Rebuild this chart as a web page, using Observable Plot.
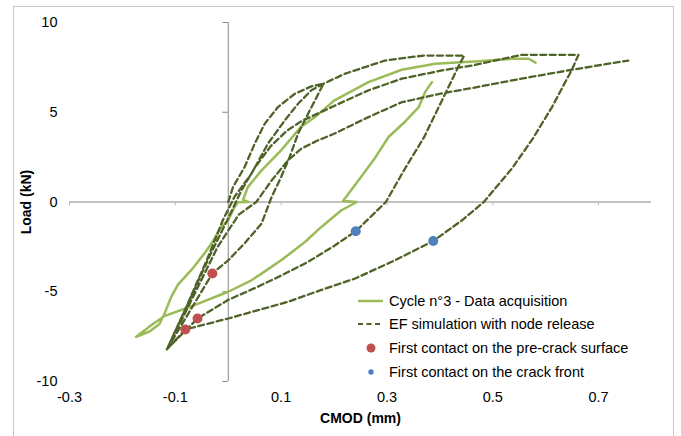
<!DOCTYPE html>
<html>
<head>
<meta charset="utf-8">
<script src="https://cdn.jsdelivr.net/npm/d3@7"></script>
<script src="https://cdn.jsdelivr.net/npm/@observablehq/plot@0.6"></script>
<style>
  html, body { margin: 0; padding: 0; background: #fff; }
  #wrap { position: relative; width: 681px; height: 436px; overflow: hidden; font-family: 'Liberation Sans', Arial, sans-serif; }
  #frame { position: absolute; left: 13px; top: 6px; width: 661px; height: 460px; border: 1px solid #c8c8c8; box-sizing: border-box; pointer-events: none; }
  #legend { position: absolute; left: 0; top: 0; width: 681px; height: 436px; pointer-events: none; }
  .item { position: absolute; left: 356px; height: 20px; display: flex; align-items: center; font-size: 14.5px; color: #000; white-space: nowrap; }
  .item svg { margin-right: 5px; }
</style>
</head>
<body>
<div id="wrap">
  <div id="chart"></div>
  <div id="frame"></div>
  <div id="legend"></div>
</div>
<script>
// ---- Data ----
const xTicks = [-0.3, -0.1, 0.1, 0.3, 0.5, 0.7];
const yTicks = [-10, -5, 0, 5, 10];

const cycleLabel = "Cycle n°3 - Data acquisition";
const efLabel = "EF simulation with node release";
const preCrackLabel = "First contact on the pre-crack surface";
const crackFrontLabel = "First contact on the crack front";

// Cycle n°3 measured curve (CMOD mm, Load kN), in drawing order
const cycleX = [0.385,0.372,0.36,0.335,0.303,0.275,0.246,0.217,0.243,0.214,0.176,0.145,0.1,0.063,0.044,0,-0.064,-0.121,-0.145,-0.174,-0.148,-0.13,-0.12,-0.108,-0.095,-0.07,-0.045,-0.032,-0.013,0,0.012,0.018,0.038,0.028,0.037,0.063,0.1,0.138,0.164,0.2,0.265,0.328,0.391,0.48,0.536,0.568,0.581];
const cycleY = [6.68,6.12,5.29,4.5,3.62,2.35,1.2,0.06,0.0,-0.46,-1.39,-2.23,-3.25,-3.99,-4.36,-5.0,-5.75,-6.36,-6.85,-7.51,-7.2,-6.8,-6.2,-5.3,-4.6,-3.8,-2.87,-2.32,-1.39,-1.02,-0.28,-0.02,0.0,0.12,0.83,1.76,2.88,4.2,4.73,5.65,6.68,7.37,7.7,7.85,7.98,7.98,7.76];

// EF simulation branches [CMOD, Load]
const efInitialLoad = [[0,0],[0.009,0.83],[0.031,1.95],[0.05,3.25],[0.069,4.36],[0.094,5.29],[0.126,6.03],[0.157,6.44],[0.18,6.59]];
const efUnload1 = [[0.18,6.59],[0.167,5.84],[0.151,4.92],[0.132,3.81],[0.116,2.5],[0.1,1.39],[0.082,0.28],[0.063,-1.2],[0.031,-2.3],[0,-3.25],[-0.03,-3.98],[-0.073,-6.1],[-0.116,-8.21]];
const efReload1 = [[-0.116,-8.21],[-0.08,-5.9],[-0.04,-3.2],[-0.01,-1.0],[0.012,0.3],[0.044,1.58],[0.075,3.25],[0.107,4.55],[0.132,5.47],[0.157,6.22],[0.18,6.59],[0.22,7.14],[0.296,7.88],[0.369,8.16],[0.446,8.16]];
const efUnload2 = [[0.446,8.16],[0.436,7.6],[0.404,5.66],[0.37,3.6],[0.334,1.86],[0.298,0],[0.241,-1.63],[0.2,-2.45],[0.15,-3.35],[0.1,-4.1],[0.05,-4.8],[0,-5.45],[-0.058,-6.49],[-0.116,-8.21]];
const efReload2 = [[-0.116,-8.21],[-0.075,-5.6],[-0.035,-3.0],[0,-0.9],[0.025,0.65],[0.05,1.9],[0.08,3.1],[0.11,3.95],[0.138,4.5],[0.2,5.35],[0.265,6.22],[0.328,6.87],[0.404,7.33],[0.461,7.6],[0.51,7.92],[0.555,8.2],[0.662,8.2]];
const efUnload3 = [[0.662,8.2],[0.65,7.4],[0.612,5.29],[0.575,3.5],[0.536,1.86],[0.483,0],[0.442,-1.02],[0.3875,-2.17],[0.315,-3.25],[0.24,-4.26],[0.176,-4.9],[0.113,-5.56],[0,-6.49],[-0.081,-7.1],[-0.116,-8.21]];
const efReload3 = [[-0.116,-8.21],[-0.07,-5.5],[-0.02,-2.5],[0.02,-0.7],[0.053,0],[0.082,1.2],[0.113,2.32],[0.138,2.97],[0.167,3.4],[0.2,3.8],[0.265,4.73],[0.328,5.56],[0.404,6.05],[0.461,6.35],[0.55,6.85],[0.65,7.37],[0.756,7.88]];

// Contact points
const preCrackX = [-0.03, -0.058, -0.081];
const preCrackY = [-3.98, -6.49, -7.1];
const crackFrontX = [0.241, 0.3875];
const crackFrontY = [-1.63, -2.17];

// ---- Build tables ----
const cycle = cycleX.map((x, i) => ({x, y: cycleY[i]}));
const ef = [efInitialLoad, efUnload1, efReload1, efUnload2, efReload2, efUnload3, efReload3]
  .flatMap((b, j) => (j === 0 ? b : b.slice(1)))
  .map(([x, y]) => ({x, y}));
const preCrack = preCrackX.map((x, i) => ({x, y: preCrackY[i]}));
const crackFront = crackFrontX.map((x, i) => ({x, y: crackFrontY[i]}));

const GREEN = "#9bbb59", OLIVE = "#4f6228", RED = "#c0504d", BLUE = "#4f81bd";
const AXIS = "#868686", TICK = "#bfbfbf";

const chart = Plot.plot({
  width: 681,
  height: 436,
  marginLeft: 69,
  marginRight: 30,
  marginTop: 22,
  marginBottom: 55,
  style: {fontFamily: "'Liberation Sans', Arial, sans-serif", fontSize: "14px", color: "#000", background: "transparent"},
  x: {domain: [-0.3, 0.8], axis: null},
  y: {domain: [-10, 10], axis: null},
  marks: [
    Plot.ruleY([0], {x1: -0.3, x2: 0.8, stroke: AXIS, strokeWidth: 1}),
    Plot.ruleX([0], {y1: -10, y2: 10, stroke: AXIS, strokeWidth: 1}),
    Plot.ruleX(xTicks, {x: d => d, y1: 0, y2: -0.22, stroke: TICK, strokeWidth: 1}),
    Plot.ruleY(yTicks.filter(d => d !== 0), {y: d => d, x1: -0.01, x2: 0, stroke: AXIS, strokeWidth: 1}),
    Plot.axisX(xTicks, {anchor: "bottom", tickSize: 0, tickPadding: 10, fontSize: 14.5, tickFormat: d => d.toFixed(1), label: null}),
    Plot.axisY(yTicks, {anchor: "left", tickSize: 0, tickPadding: 12, fontSize: 14.5, tickFormat: d => String(d), label: null}),
    Plot.text(["Load (kN)"], {frameAnchor: "left", dx: -43, rotate: -90, textAnchor: "middle", lineAnchor: "middle", fontWeight: "bold", fontSize: 14}),
    Plot.text(["CMOD (mm)"], {frameAnchor: "bottom", dy: 37, textAnchor: "middle", lineAnchor: "middle", fontWeight: "bold", fontSize: 14}),
    Plot.line(cycle, {x: "x", y: "y", stroke: GREEN, strokeWidth: 2.5, strokeLinejoin: "round"}),
    Plot.line(ef, {x: "x", y: "y", stroke: OLIVE, strokeWidth: 2.3, strokeDasharray: "6,3.5", strokeLinejoin: "round"}),
    Plot.dot(preCrack, {x: "x", y: "y", r: 5, fill: RED, stroke: "none"}),
    Plot.dot(crackFront, {x: "x", y: "y", r: 5, fill: BLUE, stroke: "none"})
  ]
});
document.getElementById("chart").appendChild(chart);

// ---- Legend ----
const legendItems = [
  {label: cycleLabel, top: 291, sw: `<line x1="2" y1="5" x2="27" y2="5" stroke="${GREEN}" stroke-width="2.5"/>`},
  {label: efLabel, top: 314, sw: `<line x1="2" y1="5" x2="27" y2="5" stroke="${OLIVE}" stroke-width="2.2" stroke-dasharray="5,3.5"/>`},
  {label: preCrackLabel, top: 338, sw: `<circle cx="15" cy="5" r="4.5" fill="${RED}"/>`},
  {label: crackFrontLabel, top: 362, sw: `<circle cx="15" cy="5" r="2.7" fill="${BLUE}"/>`}
];
const leg = document.getElementById("legend");
for (const it of legendItems) {
  const d = document.createElement("div");
  d.className = "item";
  d.style.top = it.top + "px";
  d.innerHTML = `<svg width="28" height="10">${it.sw}</svg><span>${it.label}</span>`;
  leg.appendChild(d);
}
</script>
</body>
</html>
